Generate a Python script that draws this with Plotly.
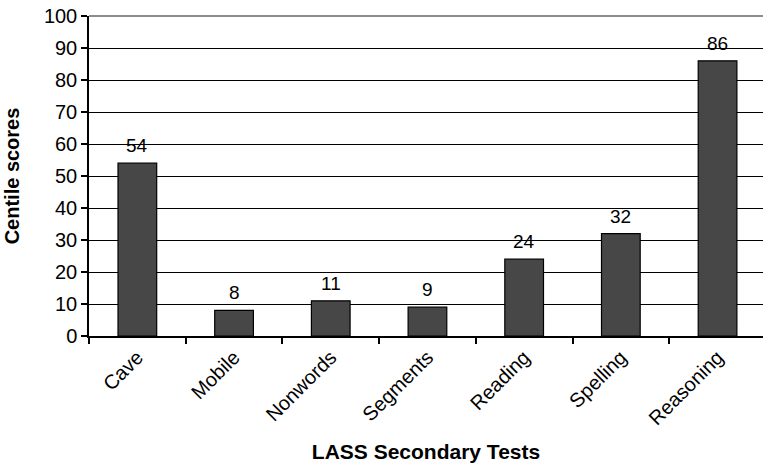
import plotly.graph_objects as go

categories = ["Cave", "Mobile", "Nonwords", "Segments", "Reading", "Spelling", "Reasoning"]
scores = [54, 8, 11, 9, 24, 32, 86]

FONT = "Liberation Sans, Arial"

fig = go.Figure()
fig.add_trace(go.Bar(
    x=categories, y=scores, width=0.4,
    marker=dict(color="#474747", line=dict(color="black", width=1.2)),
    hoverinfo="skip",
))
for c, v in zip(categories, scores):
    fig.add_annotation(x=c, y=v, text=str(v), showarrow=False, yanchor="bottom",
                       yshift=5, font=dict(size=19, color="black", family=FONT))

fig.update_layout(
    width=763, height=466,
    margin=dict(l=89, r=0, t=16, b=130),
    plot_bgcolor="white", paper_bgcolor="white",
    font=dict(family=FONT, color="black"),
    showlegend=False,
    xaxis=dict(
        range=[-0.5, 6.47], showline=True, linecolor="black", linewidth=1.5,
        ticks="outside", tickson="boundaries", ticklen=6, tickcolor="black", tickwidth=1.5,
        tickangle=-45, tickfont=dict(size=20), automargin=False,
        title=dict(text="<b>LASS Secondary Tests</b>", font=dict(size=21), standoff=16),
        showgrid=False,
    ),
    yaxis=dict(
        range=[0, 100], dtick=10, showline=True, linecolor="black", linewidth=1.5,
        ticks="outside", ticklen=6, tickcolor="black", tickwidth=1.5,
        tickfont=dict(size=20), automargin=False, ticklabeloverflow="allow",
        showgrid=True, gridcolor="black", gridwidth=1.2,
        title=dict(text="<b>Centile scores</b>", font=dict(size=20), standoff=19),
        zeroline=False,
    ),
)
fig.add_shape(type="line", xref="paper", yref="paper", x0=0, x1=1, y0=1, y1=1,
              line=dict(color="#8c8c8c", width=2), layer="above")
fig.write_html("out.html", config={"displayModeBar": False},
               post_script="document.body.style.margin='0';")
